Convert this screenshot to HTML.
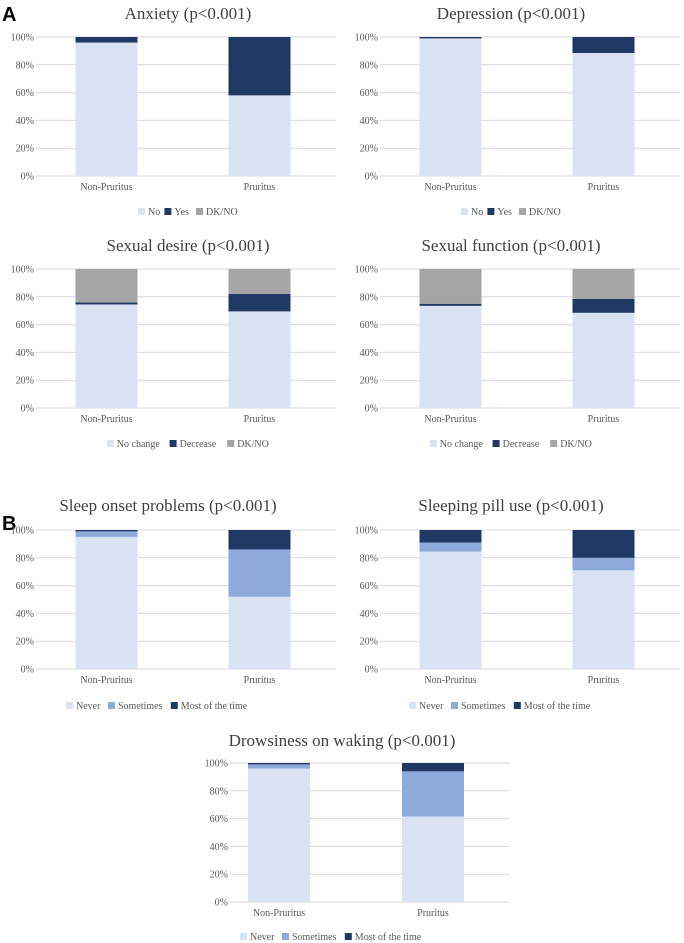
<!DOCTYPE html>
<html><head><meta charset="utf-8">
<style>
body{margin:0;background:#fff;width:684px;height:943px;overflow:hidden;font-family:"Liberation Serif",serif}
svg{display:block}
</style></head><body>
<svg id="s" width="684" height="943">
<text x="2" y="21" font-family="Liberation Sans" font-weight="bold" font-size="20" fill="#000">A</text>
<text x="2" y="530" font-family="Liberation Sans" font-weight="bold" font-size="20" fill="#000">B</text>
</svg>
<script>
const categories=["Non-Pruritus","Pruritus"];
const yTicks=[0,20,40,60,80,100];
const tickLabels=["0%","20%","40%","60%","80%","100%"];
const anxietySeries=["No","Yes","DK/NO"];
const anxietyValues=[[96,58],[4,42],[0,0]];
const depressionValues=[[99,88.5],[1,11.5],[0,0]];
const sexualSeries=["No change","Decrease","DK/NO"];
const desireValues=[[74.5,69.5],[1.5,12.5],[24,18]];
const functionValues=[[73.5,68.5],[1.5,10],[25,21.5]];
const sleepSeries=["Never","Sometimes","Most of the time"];
const onsetValues=[[95,52],[4,34],[1,14]];
const pillValues=[[84.5,71],[6.5,9],[9,20]];
const drowsyValues=[[96,61.5],[3,32.5],[1,6]];

const NS="http://www.w3.org/2000/svg";
const svg=document.getElementById('s');
function mk(tag,attrs,parent){const e=document.createElementNS(NS,tag);for(const k in attrs)e.setAttribute(k,attrs[k]);(parent||svg).appendChild(e);return e;}

function chart(name,title,series,values,colors,o){
  const g=mk('g',{});
  
  
  const y=v=>o.y0-(v/100)*(o.y0-o.y1);
  const band=(o.bx1-o.bx0)/categories.length;
  const cx=i=>o.bx0+band*(i+0.5);
  const t=mk('text',{x:o.tx,y:o.ty,'text-anchor':'middle','font-size':17,fill:'#404040'},g);
  t.textContent=title;
  
  
  yTicks.forEach((v,i)=>{
    const l=mk('line',{x1:o.gx0,x2:o.gx1,y1:y(v),y2:y(v),stroke:'#d9d9d9','stroke-width':1},g);
    
    
    const tl=mk('text',{x:o.gx0-2,y:y(v)+3.5,'text-anchor':'end','font-size':10,fill:'#595959'},g);
    tl.textContent=tickLabels[i];
    
    
  });
  categories.forEach((c,i)=>{
    let acc=0;
    values.forEach((sv,s)=>{
      const v=sv[i];
      if(v>0){
        const r=mk('rect',{x:cx(i)-31,y:y(acc+v),width:62,height:y(acc)-y(acc+v),fill:colors[s]},g);
        
        
      }
      acc+=v;
    });
    const xl=mk('text',{x:cx(i),y:o.y0+14,'text-anchor':'middle','font-size':10,fill:'#595959'},g);
    xl.textContent=c;
    
    
  });
  const widths=series.map(s=>s.length*5.2+16);
  const total=widths.reduce((a,b)=>a+b,0);
  let lx=o.tx-total/2;
  series.forEach((s,i)=>{
    const r=mk('rect',{x:lx,y:o.ly-7,width:7,height:7,fill:colors[i]},g);
    
    
    const tx=mk('text',{x:lx+10,y:o.ly,'font-size':10,fill:'#595959'},g);
    tx.textContent=s;
    
    
    lx+=widths[i];
  });
}
const cA=['#dae3f3','#203864','#a5a5a5'];
const cB=['#dae3f3','#8eaadb','#203864'];
chart('anxiety-chart','Anxiety (p<0.001)',anxietySeries,anxietyValues,cA,{tx:188,ty:19,gx0:36,gx1:336,bx0:30,bx1:336,y1:37,y0:176,ly:215});
chart('depression-chart','Depression (p<0.001)',anxietySeries,depressionValues,cA,{tx:511,ty:19,gx0:380,gx1:680,bx0:374,bx1:680,y1:37,y0:176,ly:215});
chart('sexual-desire-chart','Sexual desire (p<0.001)',sexualSeries,desireValues,cA,{tx:188,ty:251,gx0:36,gx1:336,bx0:30,bx1:336,y1:269,y0:408,ly:447});
chart('sexual-function-chart','Sexual function (p<0.001)',sexualSeries,functionValues,cA,{tx:511,ty:251,gx0:380,gx1:680,bx0:374,bx1:680,y1:269,y0:408,ly:447});
chart('sleep-onset-chart','Sleep onset problems (p<0.001)',sleepSeries,onsetValues,cB,{tx:168,ty:511,gx0:36,gx1:336,bx0:30,bx1:336,y1:530,y0:669,ly:709});
chart('sleeping-pill-chart','Sleeping pill use (p<0.001)',sleepSeries,pillValues,cB,{tx:511,ty:511,gx0:380,gx1:680,bx0:374,bx1:680,y1:530,y0:669,ly:709});
chart('drowsiness-chart','Drowsiness on waking (p<0.001)',sleepSeries,drowsyValues,cB,{tx:342,ty:746,gx0:230,gx1:510,bx0:202,bx1:510,y1:763,y0:902,ly:940});
</script>
</body></html>
